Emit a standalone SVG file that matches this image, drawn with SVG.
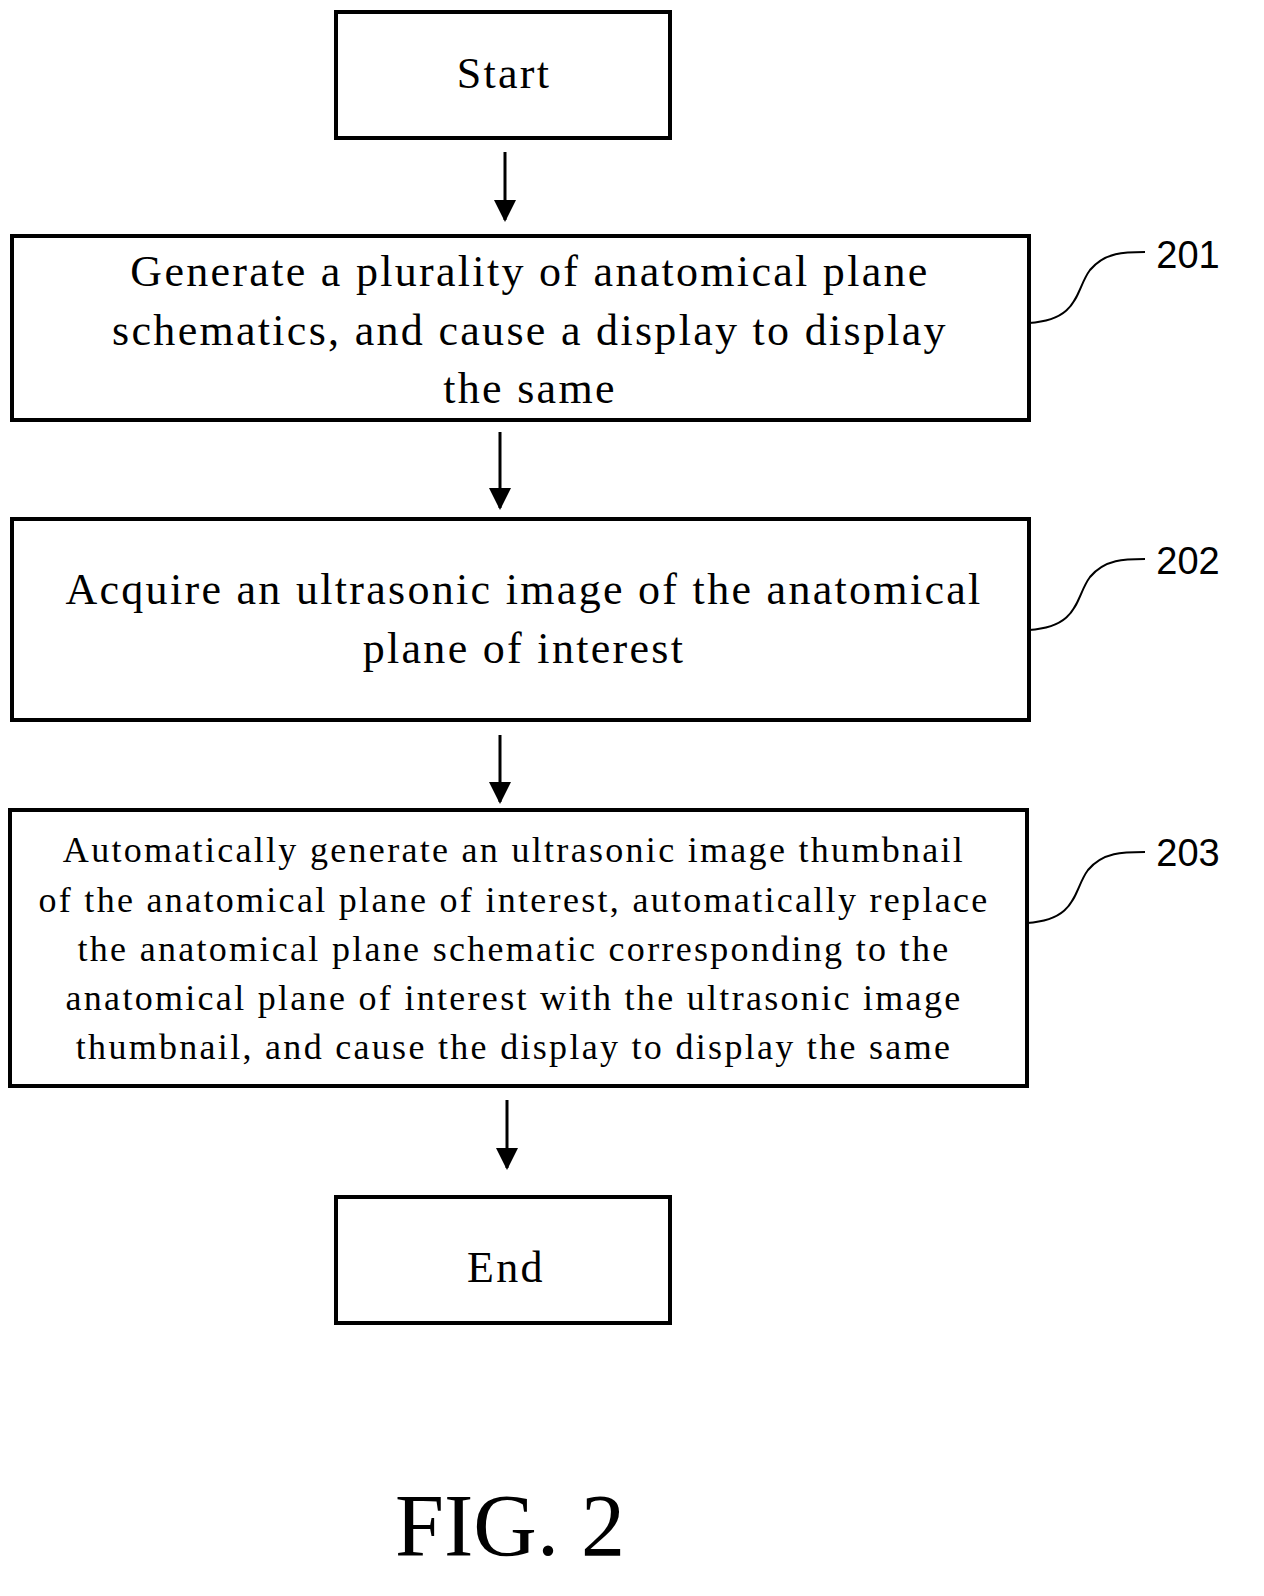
<svg xmlns="http://www.w3.org/2000/svg" width="1264" height="1596" viewBox="0 0 1264 1596">
<defs>
<style>
.box{fill:#fff;stroke:#000;stroke-width:4}
.t{font-family:"Liberation Serif",serif;fill:#000;text-anchor:middle;letter-spacing:2.3px}
.lbl{font-family:"Liberation Sans",sans-serif;font-size:38px;fill:#000;text-anchor:middle}
.c{stroke:#000;stroke-width:3;fill:none}
.lead{stroke:#000;stroke-width:2;fill:none}
</style>
<marker id="ah" markerWidth="22" markerHeight="24" refX="20" refY="11" orient="auto" markerUnits="userSpaceOnUse" viewBox="0 0 22 22">
<path d="M0,0 L22,11 L0,22 Z" fill="#000"/>
</marker>
</defs>
<rect width="1264" height="1596" fill="#fff"/>
<g id="start"><rect class="box" x="336" y="12" width="334" height="126"/><text class="t" font-size="44" x="504" y="88">Start</text></g>
<g id="n201"><rect class="box" x="12" y="236" width="1017" height="184"/>
<text class="t" font-size="44"><tspan x="530" y="286">Generate a plurality of anatomical plane</tspan><tspan x="530" y="345">schematics, and cause a display to display</tspan><tspan x="530" y="403">the same</tspan></text>
<path class="lead" d="M1029,323 C1080,320 1075,290 1090,270 C1105,252 1125,252 1145,252"/><text class="lbl" x="1188" y="268">201</text></g>
<g id="n202"><rect class="box" x="12" y="519" width="1017" height="201"/>
<text class="t" font-size="44"><tspan x="524" y="604">Acquire an ultrasonic image of the anatomical</tspan><tspan x="524" y="663">plane of interest</tspan></text>
<path class="lead" d="M1029,630 C1080,627 1075,597 1090,577 C1105,559 1125,559 1145,559"/><text class="lbl" x="1188" y="574">202</text></g>
<g id="n203"><rect class="box" x="10" y="810" width="1017" height="276"/>
<text class="t" font-size="36"><tspan x="514" y="862">Automatically generate an ultrasonic image thumbnail</tspan><tspan x="514" y="912">of the anatomical plane of interest, automatically replace</tspan><tspan x="514" y="961">the anatomical plane schematic corresponding to the</tspan><tspan x="514" y="1010">anatomical plane of interest with the ultrasonic image</tspan><tspan x="514" y="1059">thumbnail, and cause the display to display the same</tspan></text>
<path class="lead" d="M1027,923 C1078,920 1073,890 1088,870 C1103,852 1123,852 1145,852"/><text class="lbl" x="1188" y="866">203</text></g>
<g id="end"><rect class="box" x="336" y="1197" width="334" height="126"/><text class="t" font-size="44" x="506" y="1282">End</text></g>
<g id="connectors">
<line class="c" x1="505" y1="152" x2="505" y2="220" marker-end="url(#ah)"/>
<line class="c" x1="500" y1="432" x2="500" y2="508" marker-end="url(#ah)"/>
<line class="c" x1="500" y1="735" x2="500" y2="802" marker-end="url(#ah)"/>
<line class="c" x1="507" y1="1100" x2="507" y2="1168" marker-end="url(#ah)"/>
</g>
<text class="t" font-size="88" x="510" y="1555" style="letter-spacing:0">FIG. 2</text>
</svg>
